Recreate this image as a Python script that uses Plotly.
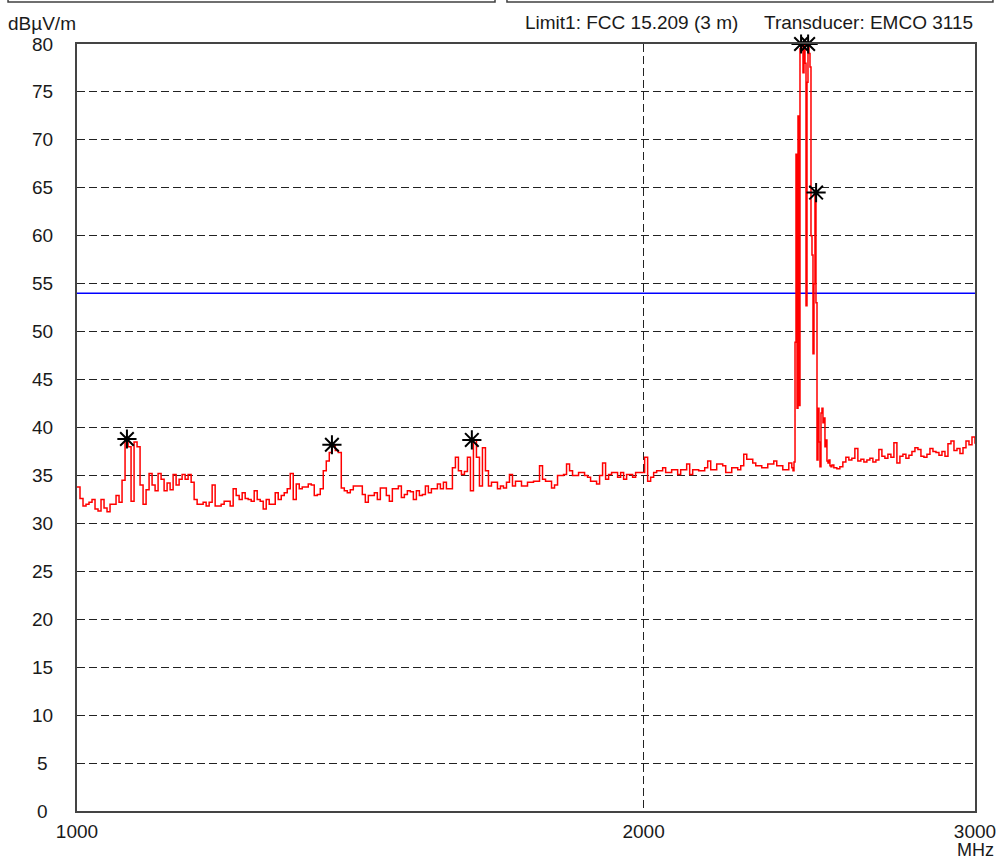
import numpy as np
import plotly.graph_objects as go

# ---------------- data ----------------
# main sweep (levels on a log-spaced frequency grid 1000..3000 MHz)
sweep_start_mhz = 1000
sweep_stop_mhz = 3000
sweep_levels = [
    33.8, 32.6, 31.8, 32.0, 32.2, 32.5, 31.5, 31.3, 32.5, 31.6,
    31.2, 32.0, 32.0, 32.9, 32.2, 34.5, 38.8, 38.0, 32.3, 38.5,
    38.0, 34.0, 32.0, 33.5, 35.2, 34.0, 33.4, 35.2, 34.6, 33.4,
    34.2, 33.5, 35.1, 34.0, 34.6, 35.1, 34.6, 35.1, 34.3, 32.5,
    32.0, 32.0, 32.2, 31.8, 32.2, 34.0, 31.8, 31.8, 32.0, 32.3,
    32.3, 31.8, 33.6, 32.9, 32.5, 33.2, 32.6, 32.5, 32.3, 33.4,
    32.5, 32.3, 31.5, 32.5, 32.0, 32.0, 33.2, 32.5, 32.9, 33.2,
    33.6, 35.2, 32.5, 34.1, 33.6, 33.8, 33.8, 34.1, 34.0, 32.9,
    33.0, 33.6, 35.5, 36.5, 37.4, 38.2, 37.6, 37.4, 33.7, 33.4,
    33.2, 33.5, 33.9, 33.9, 33.9, 33.0, 32.2, 32.9, 32.9, 33.2,
    32.5, 33.7, 33.7, 32.9, 32.3, 33.6, 33.6, 33.9, 32.7, 33.0,
    33.4, 33.3, 32.5, 33.4, 32.9, 33.0, 33.9, 33.2, 33.6, 33.6,
    34.1, 33.6, 34.3, 33.6, 33.6, 35.8, 36.9, 35.5, 35.1, 35.4,
    36.9, 33.4, 38.7, 36.9, 33.9, 37.9, 35.5, 33.9, 34.3, 34.3,
    33.6, 33.9, 33.7, 34.3, 35.1, 33.9, 34.4, 34.4, 33.9, 33.9,
    34.3, 34.3, 34.4, 34.4, 36.0, 34.6, 34.4, 34.4, 33.7, 34.0,
    35.0, 35.0, 35.1, 36.2, 35.5, 35.0, 35.0, 35.3, 35.3, 35.0,
    34.8, 34.4, 34.4, 34.1, 35.0, 36.3, 34.6, 35.1, 35.3, 35.3,
    34.8, 35.3, 34.6, 35.1, 35.1, 34.8, 35.3, 35.3, 35.3, 36.9,
    34.4, 34.8, 35.3, 35.5, 35.5, 35.8, 35.3, 35.3, 35.6, 35.6,
    35.1, 35.6, 35.6, 36.2, 35.1, 35.6, 35.6, 35.5, 35.5, 35.8,
    36.5, 35.6, 35.6, 36.2, 36.2, 36.0, 35.3, 35.3, 35.8, 35.8,
    35.6, 36.0, 37.2, 36.7, 36.7, 36.3, 36.0, 36.0, 35.8, 35.8,
    36.2, 36.2, 36.5, 36.0, 36.0, 35.6, 35.6, 36.3, 35.8, 36.3,
    72.5, 80.0, 80.0, 76.0, 77.6, 47.7, 53.0, 38.5, 42.0, 38.0,
    36.3, 35.9, 35.8, 35.7, 35.9, 36.4, 36.9, 36.6, 36.8, 37.8,
    36.5, 36.7, 36.4, 36.6, 36.8, 36.4, 36.6, 37.7, 37.0, 36.8,
    37.2, 36.9, 38.4, 36.3, 37.0, 37.2, 36.8, 37.1, 37.5, 37.9,
    37.7, 37.0, 36.9, 37.2, 37.8, 37.5, 37.4, 37.1, 37.5, 37.0,
    38.3, 38.6, 37.6, 37.8, 37.3, 37.9, 38.6, 38.2, 39.0, 38.3,
]

# finer detail around the 2.4 GHz emission
peak_freqs = [
    2398.2, 2401.2, 2404.1, 2407.1, 2410.0, 2413.0, 2415.9, 2418.9, 2421.8, 2424.8,
    2427.8, 2430.7, 2433.7, 2436.7, 2439.7, 2442.6, 2445.6, 2448.6, 2451.6, 2454.6,
    2457.6, 2460.6, 2463.6, 2466.6, 2469.6, 2472.7, 2475.7, 2478.7, 2481.7, 2484.8,
    2487.8, 2490.8, 2493.9, 2496.9, 2500.0, 2503.0, 2506.1, 2509.2, 2512.2, 2515.3,
    2518.4,
]
peak_levels = [
    35.8, 35.5, 36.4, 48.9, 68.5, 42.0, 72.5, 42.3, 79.5, 80.0,
    80.0, 77.0, 80.0, 78.0, 52.7, 76.0, 80.0, 79.0, 77.6, 60.0,
    58.0, 47.7, 55.0, 64.5, 53.0, 36.6, 42.0, 38.5, 35.9, 41.5,
    42.0, 40.5, 41.0, 38.0, 38.7, 36.5, 36.3, 36.6, 36.0, 35.9,
    36.1,
]

# peak markers
marker_freqs = [1063, 1366, 1621, 2425, 2446, 2470]
marker_levels = [38.8, 38.2, 38.7, 80.0, 80.0, 64.5]

# limit line FCC 15.209 (3 m)
limit_freqs = [1000, 3000]
limit_levels = [54, 54]

# axes
x_ticks = [1000, 2000, 3000]
x_ticktext = ["1000", "2000", "3000"]
y_ticks = list(range(0, 85, 5))

unit_y = "dBµV/m"
unit_x = "MHz"
limit_label = "Limit1: FCC 15.209 (3 m)"
transducer_label = "Transducer: EMCO 3115"

# ---------------- build trace ----------------
sweep_freqs = np.geomspace(sweep_start_mhz, sweep_stop_mhz, len(sweep_levels))
sweep_lv = np.array(sweep_levels)
pf = np.array(peak_freqs)
pl = np.array(peak_levels)
keep = (sweep_freqs < pf.min()) | (sweep_freqs > pf.max())
freqs = np.concatenate([sweep_freqs[keep], pf])
levels = np.concatenate([sweep_lv[keep], pl])
order = np.argsort(freqs)
freqs = freqs[order]
levels = levels[order]

FONT = "Liberation Sans, Arial, sans-serif"
TXT = "#1a1a1a"
FS = 19

fig = go.Figure()
fig.add_trace(go.Scatter(
    x=limit_freqs, y=limit_levels, mode="lines",
    line=dict(color="#0000ff", width=1.4), hoverinfo="skip", showlegend=False,
))
fig.add_trace(go.Scatter(
    x=freqs, y=levels, mode="lines",
    line=dict(color="#ff0000", width=1.5, shape="hv"), showlegend=False,
))
fig.add_trace(go.Scatter(
    x=marker_freqs, y=marker_levels, mode="markers",
    marker=dict(symbol="asterisk-open", size=16, color="#000000",
                line=dict(color="#000000", width=2)),
    cliponaxis=False, showlegend=False,
))

grid = dict(showgrid=True, gridcolor="#222222", gridwidth=1.3, griddash="8px,4px")

fig.update_xaxes(
    type="log", range=[np.log10(1000), np.log10(3000)],
    tickvals=x_ticks, ticktext=x_ticktext, ticks="",
    tickfont=dict(family=FONT, size=FS, color=TXT),
    showline=True, mirror=True, linecolor="#444444", linewidth=1.8,
    zeroline=False, ticklabelstandoff=2, automargin=False, **grid,
)
fig.update_yaxes(
    range=[0, 80], tickvals=y_ticks, showticklabels=False, ticks="",
    showline=True, mirror=True, linecolor="#444444", linewidth=1.8,
    zeroline=False, automargin=False, **grid,
)

annotations = []
for v in y_ticks:
    annotations.append(dict(
        x=0, xref="paper", xshift=-35, xanchor="center",
        y=v, yref="y", yanchor="middle",
        text=str(v), showarrow=False,
        font=dict(family=FONT, size=FS, color=TXT),
    ))
annotations += [
    dict(x=0, xref="paper", xshift=-35, xanchor="center",
         y=1, yref="paper", yshift=21, yanchor="middle",
         text=unit_y, showarrow=False, font=dict(family=FONT, size=FS, color=TXT)),
    dict(x=1, xref="paper", xanchor="center",
         y=0, yref="paper", yshift=-39, yanchor="middle",
         text=unit_x, showarrow=False, font=dict(family=FONT, size=18, color=TXT)),
    dict(x=0.4967, xref="paper", xanchor="left",
         y=1, yref="paper", yshift=22, yanchor="middle",
         text=limit_label, showarrow=False, font=dict(family=FONT, size=FS, color=TXT)),
    dict(x=1, xref="paper", xanchor="right",
         y=1, yref="paper", yshift=22, yanchor="middle",
         text=transducer_label, showarrow=False, font=dict(family=FONT, size=FS, color=TXT)),
]

shapes = [
    dict(type="rect", xref="paper", yref="paper",
         x0=-0.0768, x1=0.4655, y0=1.0548, y1=1.2,
         line=dict(color="#404040", width=1.5), fillcolor="rgba(0,0,0,0)"),
    dict(type="rect", xref="paper", yref="paper",
         x0=0.4788, x1=1.0200, y0=1.0548, y1=1.2,
         line=dict(color="#404040", width=1.5), fillcolor="rgba(0,0,0,0)"),
]

fig.update_layout(
    width=997, height=861,
    margin=dict(l=77, r=22, t=44, b=50, autoexpand=False),
    paper_bgcolor="white", plot_bgcolor="white",
    font=dict(family=FONT, size=FS, color=TXT),
    annotations=annotations, shapes=shapes,
    showlegend=False,
)

fig.write_html("out.html")
